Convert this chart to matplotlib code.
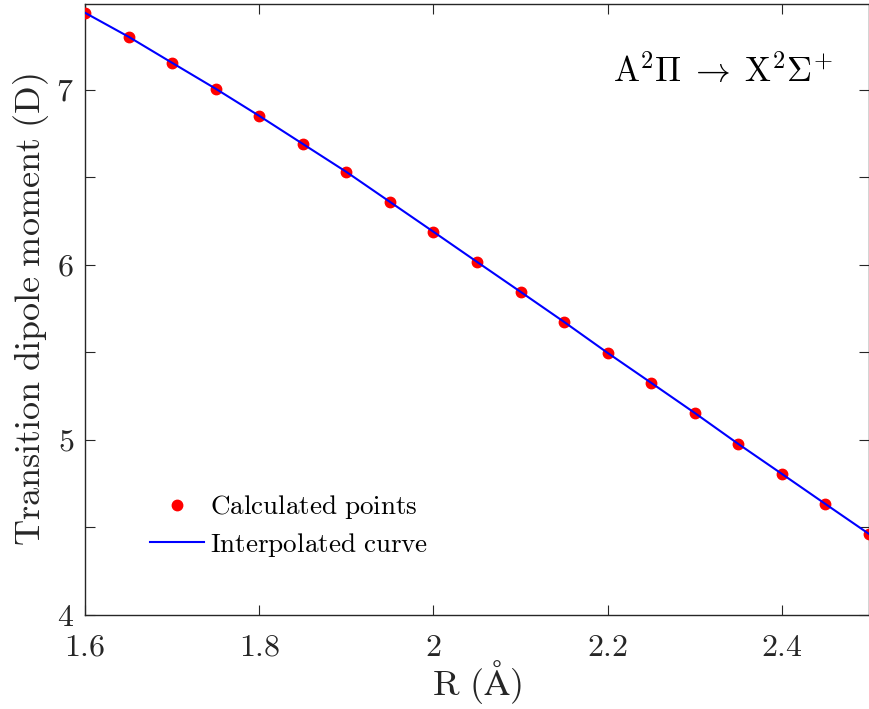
import numpy as np
import matplotlib
matplotlib.use("Agg")
import matplotlib.pyplot as plt

# Data
r_points = [1.60, 1.65, 1.70, 1.75, 1.80, 1.85, 1.90, 1.95, 2.00, 2.05,
            2.10, 2.15, 2.20, 2.25, 2.30, 2.35, 2.40, 2.45, 2.50]
tdm_points = [7.44, 7.303, 7.154, 7.006, 6.851, 6.691, 6.531, 6.36, 6.189, 6.017,
              5.846, 5.674, 5.497, 5.326, 5.154, 4.977, 4.806, 4.634, 4.463]

x_ticks = [1.6, 1.8, 2.0, 2.2, 2.4]
x_labels = ["1.6", "1.8", "2", "2.2", "2.4"]
y_ticks = [4, 4.5, 5, 5.5, 6, 6.5, 7]
y_labels = ["4", "", "5", "", "6", "", "7"]

plt.rcParams["mathtext.fontset"] = "cm"
plt.rcParams["font.family"] = "serif"
plt.rcParams["font.serif"] = ["cmr10", "DejaVu Serif"]
plt.rcParams["axes.formatter.use_mathtext"] = True

fig = plt.figure(figsize=(8.70, 7.09), dpi=100)
ax = fig.add_axes([85 / 870, 1 - 615 / 709, (869 - 85) / 870, (615 - 4) / 709])

ax.plot(r_points, tdm_points, "o", color="red", markersize=7.5,
        label=r"$\mathrm{Calculated\ points}$", zorder=3)
ax.plot(r_points, tdm_points, "-", color="blue", linewidth=1.5,
        label=r"$\mathrm{Interpolated\ curve}$", zorder=4)

ax.set_xlim(1.6, 2.5)
ax.set_ylim(4, 7.49)
ax.set_xticks(x_ticks)
ax.set_xticklabels([f"${t}$" for t in x_labels])
ax.set_yticks(y_ticks)
ax.set_yticklabels([f"${t}$" if t else "" for t in y_labels])

gray = "#262626"
for s in ax.spines.values():
    s.set_color(gray)
    s.set_linewidth(1.0)
ax.tick_params(direction="in", top=True, right=True, length=7, width=0.8,
               colors=gray, labelsize=23)
ax.tick_params(axis="x", pad=14)
ax.tick_params(axis="y", pad=8)
for lab in ax.get_xticklabels() + ax.get_yticklabels():
    lab.set_color(gray)

ax.set_xlabel(r"$\mathrm{R\ (\AA)}$", fontsize=26, color=gray, labelpad=-3)
ax.set_ylabel(r"$\mathrm{Transition\ dipole\ moment\ (D)}$", fontsize=26,
              color=gray, labelpad=4)

ax.text(0.673, 0.872, r"$\mathrm{A}^2\Pi\;\rightarrow\;\mathrm{X}^2\Sigma^{+}$",
        transform=ax.transAxes, fontsize=25, color="black", va="baseline")

leg = ax.legend(loc="lower left", bbox_to_anchor=(0.083, 0.092), frameon=False,
                fontsize=19.5, handlelength=2.0, handletextpad=0.2,
                labelspacing=0.35, borderaxespad=0, borderpad=0)

fig.savefig("out.png", dpi=100)
